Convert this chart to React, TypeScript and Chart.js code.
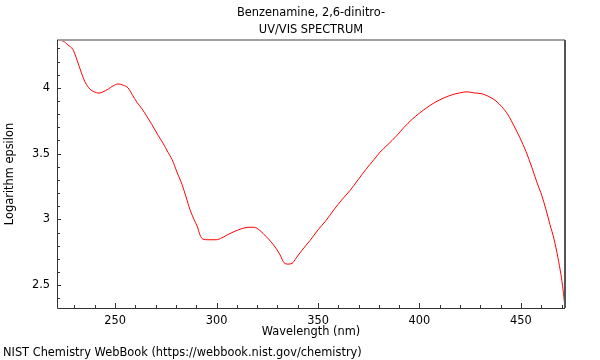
import { useEffect, useRef } from "react";
import { Chart, registerables } from "chart.js";

Chart.register(...registerables);

const TITLE_LINES = ["Benzenamine, 2,6-dinitro-", "UV/VIS SPECTRUM"];
const X_TITLE = "Wavelength (nm)";
const Y_TITLE = "Logarithm epsilon";
const FOOTER = "NIST Chemistry WebBook (https://webbook.nist.gov/chemistry)";

const wavelengths = [
  221.4, 224.4, 226.8, 229.3, 231.3, 233.3, 235.2, 237.7, 239.7, 242.1, 244.1, 246.6, 249.0, 251.5,
  254.0, 256.4, 258.4, 260.8, 263.3, 265.8, 268.2, 271.2, 273.6, 276.1, 278.1, 280.5, 283.0, 285.0,
  286.9, 288.9, 290.4, 291.9, 293.3, 295.8, 299.8, 302.7, 305.7, 309.1, 312.6, 315.5, 318.5, 321.4,
  324.4, 326.8, 329.3, 331.3, 333.3, 335.2, 337.2, 339.2, 342.1, 346.1, 350.0, 353.9, 357.9, 361.8,
  365.8, 369.7, 373.6, 377.6, 380.5, 384.5, 388.4, 392.4, 396.3, 400.2, 404.2, 408.1, 412.1, 416.0,
  419.9, 423.4, 426.8, 430.8, 434.7, 437.7, 440.6, 443.6, 446.6, 449.5, 452.5, 455.4, 457.9, 460.3,
  462.3, 464.3, 466.3, 468.2, 469.7, 470.7, 471.7,
];
const logEpsilon = [
  4.364, 4.356, 4.326, 4.29, 4.21, 4.12, 4.045, 3.99, 3.97, 3.96, 3.97, 3.99, 4.015, 4.03,
  4.02, 4.0, 3.95, 3.89, 3.84, 3.78, 3.72, 3.64, 3.58, 3.51, 3.455, 3.36, 3.265, 3.17,
  3.075, 3.0, 2.95, 2.88, 2.85, 2.845, 2.845, 2.86, 2.885, 2.91, 2.93, 2.94, 2.94, 2.915,
  2.87, 2.83, 2.78, 2.73, 2.67, 2.66, 2.665, 2.705, 2.765, 2.84, 2.92, 2.99, 3.075, 3.15,
  3.22, 3.30, 3.38, 3.455, 3.51, 3.57, 3.63, 3.70, 3.76, 3.81, 3.856, 3.894, 3.924, 3.947,
  3.962, 3.97, 3.962, 3.955, 3.93, 3.90, 3.856, 3.795, 3.71, 3.62, 3.515, 3.394, 3.28, 3.18,
  3.076, 2.96, 2.85, 2.71, 2.58, 2.47, 2.33,
];

const X_MIN = 221.4;
const X_MAX = 471.7;
const Y_MIN = 2.326;
const Y_MAX = 4.364;
const X_MAJOR = [250, 300, 350, 400, 450];
const X_MINOR = [230, 240, 260, 270, 280, 290, 310, 320, 330, 340, 360, 370, 380, 390, 410, 420, 430, 440, 460, 470];
const Y_MAJOR = [2.5, 3, 3.5, 4];
const Y_MINOR = [2.4, 2.6, 2.7, 2.8, 2.9, 3.1, 3.2, 3.3, 3.4, 3.6, 3.7, 3.8, 3.9, 4.1, 4.2, 4.3];

const FONT = "11.4px 'DejaVu Sans'";

const decorPlugin = {
  id: "decor",
  afterDraw(chart: any) {
    const { ctx, chartArea } = chart;
    const { left, right, top, bottom } = chartArea;
    const xs = chart.scales.x;
    const ys = chart.scales.y;
    ctx.save();
    ctx.strokeStyle = "#333";
    ctx.lineWidth = 1;
    ctx.beginPath();
    for (const v of X_MAJOR) {
      const px = Math.round(xs.getPixelForValue(v)) + 0.5;
      ctx.moveTo(px, bottom);
      ctx.lineTo(px, bottom - 5);
    }
    for (const v of X_MINOR) {
      const px = Math.round(xs.getPixelForValue(v)) + 0.5;
      ctx.moveTo(px, bottom);
      ctx.lineTo(px, bottom - 3);
    }
    for (const v of Y_MAJOR) {
      const py = Math.round(ys.getPixelForValue(v)) + 0.5;
      ctx.moveTo(left, py);
      ctx.lineTo(left + 4, py);
    }
    for (const v of Y_MINOR) {
      const py = Math.round(ys.getPixelForValue(v)) + 0.5;
      ctx.moveTo(left, py);
      ctx.lineTo(left + 3, py);
    }
    ctx.stroke();
    ctx.strokeStyle = "#a0a0a0";
    ctx.lineWidth = 2;
    ctx.beginPath();
    ctx.moveTo(left, top);
    ctx.lineTo(right, top);
    ctx.stroke();
    ctx.strokeStyle = "#555";
    ctx.beginPath();
    ctx.moveTo(right, top);
    ctx.lineTo(right, bottom);
    ctx.stroke();
    ctx.strokeStyle = "#333";
    ctx.lineWidth = 1;
    ctx.beginPath();
    ctx.moveTo(left + 0.5, top);
    ctx.lineTo(left + 0.5, bottom + 0.5);
    ctx.lineTo(right, bottom + 0.5);
    ctx.stroke();
    ctx.fillStyle = "#000";
    ctx.font = FONT;
    ctx.textBaseline = "middle";
    ctx.textAlign = "center";
    const cx = (left + right) / 2;
    ctx.fillText(TITLE_LINES[0], cx, 13);
    ctx.fillText(TITLE_LINES[1], cx, 30);
    ctx.fillText(X_TITLE, cx, 332);
    ctx.textAlign = "left";
    ctx.fillText(FOOTER, 3, 353);
    ctx.save();
    ctx.translate(10, (top + bottom) / 2);
    ctx.rotate(-Math.PI / 2);
    ctx.textAlign = "center";
    ctx.fillText(Y_TITLE, 0, 0);
    ctx.restore();
    ctx.restore();
  },
};

export default function App() {
  const ref = useRef<HTMLCanvasElement>(null);
  useEffect(() => {
    if (!ref.current) return;
    const chart = new Chart(ref.current, {
      type: "line",
      data: {
        datasets: [
          {
            data: wavelengths.map((w, i) => ({ x: w, y: logEpsilon[i] })),
            borderColor: "#ff0000",
            borderWidth: 1,
            pointRadius: 0,
            cubicInterpolationMode: "monotone",
            fill: false,
          },
        ],
      },
      options: {
        animation: false,
        responsive: false,
        devicePixelRatio: 1,
        layout: { padding: { top: 40, right: 35, bottom: 0, left: 0 } },
        plugins: { legend: { display: false }, tooltip: { enabled: false }, title: { display: false } },
        scales: {
          x: {
            type: "linear",
            min: X_MIN,
            max: X_MAX,
            grid: { display: false, drawTicks: false },
            border: { display: false },
            afterBuildTicks: (s: any) => {
              s.ticks = X_MAJOR.map((v) => ({ value: v }));
            },
            afterFit: (s: any) => {
              s.height = 52;
            },
            ticks: { padding: 6, color: "#000", font: { family: "DejaVu Sans", size: 11.4 }, maxRotation: 0 },
          },
          y: {
            type: "linear",
            min: Y_MIN,
            max: Y_MAX,
            grid: { display: false, drawTicks: false },
            border: { display: false },
            afterBuildTicks: (s: any) => {
              s.ticks = Y_MAJOR.map((v) => ({ value: v }));
            },
            afterFit: (s: any) => {
              s.width = 57;
            },
            ticks: {
              padding: 7,
              color: "#000",
              font: { family: "DejaVu Sans", size: 11.4 },
              callback: (v: any) => String(v),
            },
          },
        },
      },
      plugins: [decorPlugin],
    });
    return () => chart.destroy();
  }, []);
  return (
    <div style={{ position: "absolute", left: 0, top: 0, width: 600, height: 360 }}>
      <canvas ref={ref} width={600} height={360} style={{ display: "block" }} />
    </div>
  );
}
